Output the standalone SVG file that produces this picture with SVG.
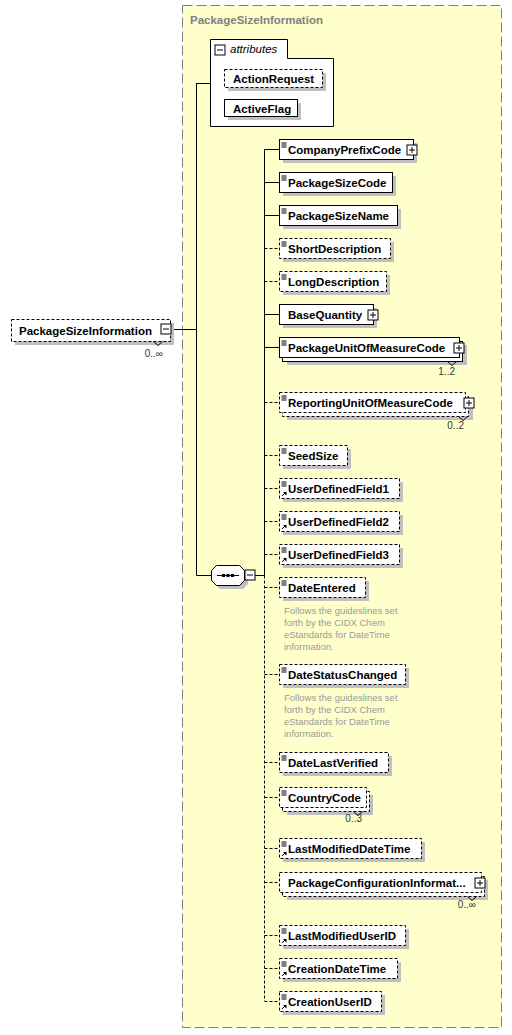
<svg xmlns="http://www.w3.org/2000/svg" width="512" height="1035" viewBox="0 0 512 1035">
<style>
.bg{fill:#ffffcc;stroke:#808080;stroke-width:1;stroke-dasharray:10,4}
.box{fill:#fff;stroke:#000;stroke-width:1}
.opt{stroke-dasharray:3,2}
.sh{fill:#c0c0c0}
.lbl{font-family:"Liberation Sans",Arial,sans-serif;font-weight:bold;font-size:11.5px;fill:#000}
.ttl{font-family:"Liberation Sans",Arial,sans-serif;font-weight:bold;font-size:11.5px;fill:#808080}
.it{font-family:"Liberation Sans",Arial,sans-serif;font-style:italic;font-size:11.5px;fill:#000}
.occ{font-family:"Liberation Sans",Arial,sans-serif;font-size:10px;fill:#333}
.doc{font-family:"Liberation Sans",Arial,sans-serif;font-size:9.5px;fill:#999}
.ln{stroke:#000;stroke-width:1;fill:none}
.dl{stroke:#000;stroke-width:1;fill:none;stroke-dasharray:3,2}
.ic{stroke:#000;stroke-width:1;fill:none}
</style>
<defs>
<g id="eq"><path d="M2,3.5h5M2,5.5h5M2,7.5h5" class="ic"/></g>
<g id="ref"><path d="M2.5,17.5l3,-3" class="ic"/><path d="M3.5,13.5h3.5v3.5z" fill="#000"/></g>
<g id="plus"><rect x="0.5" y="0.5" width="10" height="10" class="box"/><path d="M2.5,5.5h6M5.5,2.5v6" class="ic"/></g>
<g id="minus"><rect x="0.5" y="0.5" width="10" height="10" class="box"/><path d="M2.5,5.5h6" class="ic"/></g>
</defs>

<rect class="bg" x="182.5" y="5.5" width="319" height="1022"/>
<text class="ttl" x="190" y="24">PackageSizeInformation</text>

<g id="connectors">
<path class="ln" d="M171,329.5H196.5M196.5,83V575.5M196.5,83.5H210M196.5,575.5H211M255,575.5H264.5M264.5,149.5V575.5"/>
<path class="dl" d="M264.5,575.5V1001"/>
<path class="ln" d="M264.5,149.5H279M264.5,182.5H279M264.5,215.5H279M264.5,314.5H279M264.5,347.5H279"/>
<path class="dl" d="M264.5,248.5H279M264.5,281.5H279M264.5,402.5H279M264.5,455.5H279M264.5,488.5H279M264.5,521.5H279M264.5,554.5H279M264.5,587.5H279M264.5,674.5H279M264.5,762.5H279M264.5,797.5H279M264.5,848.5H279M264.5,882.5H279M264.5,935.5H279M264.5,968.5H279M264.5,1001.5H279"/>
</g>

<g id="PackageSizeInformation">
<rect class="sh" x="15" y="323" width="159" height="22"/>
<rect class="box opt" x="11.5" y="319.5" width="159" height="22"/>
<text class="lbl" x="19" y="335">PackageSizeInformation</text>
<use href="#minus" x="160.5" y="323.5"/>
<path class="ic" d="M153.5,341.5l4.5,4l4.5,-4"/>
<text class="occ" x="163" y="357" text-anchor="end">0..∞</text>
</g>

<g id="attributes">
<path class="box" d="M210.5,39.5H287.5V58.5H333.5V126.5H210.5Z"/>
<use href="#minus" x="214.5" y="44.5"/>
<text class="it" x="230" y="53">attributes</text>
</g>
<g id="ActionRequest">
<rect class="sh" x="228" y="73" width="98" height="18"/>
<rect class="box opt" x="224.5" y="69.5" width="98" height="18"/>
<text class="lbl" x="233" y="83">ActionRequest</text>
</g>
<g id="ActiveFlag">
<rect class="sh" x="228" y="103" width="73" height="17"/>
<rect class="box" x="224.5" y="99.5" width="73" height="17"/>
<text class="lbl" x="233" y="112.5">ActiveFlag</text>
</g>

<g id="sequence">
<path class="sh" d="M220,569H243L248,574V584L243,589H220L215,584V574Z"/>
<path class="box" d="M216.5,565.5H239.5L244.5,570.5V580.5L239.5,585.5H216.5L211.5,580.5V570.5Z"/>
<path class="ic" d="M217,575.5H239"/>
<rect x="222" y="574" width="3" height="3" fill="#000"/>
<rect x="226.5" y="574" width="3" height="3" fill="#000"/>
<rect x="231" y="574" width="3" height="3" fill="#000"/>
<use href="#minus" x="244.5" y="569.5"/>
</g>

<g id="CompanyPrefixCode">
<rect class="sh" x="283" y="143" width="134" height="20"/>
<rect class="box" x="279.5" y="139.5" width="134" height="20"/>
<use href="#eq" x="279.5" y="139.5"/>
<text class="lbl" x="288" y="154">CompanyPrefixCode</text>
<use href="#plus" x="406.5" y="144.5"/>
</g>
<g id="PackageSizeCode">
<rect class="sh" x="283" y="176" width="113" height="20"/>
<rect class="box" x="279.5" y="172.5" width="113" height="20"/>
<use href="#eq" x="279.5" y="172.5"/>
<text class="lbl" x="288" y="187">PackageSizeCode</text>
</g>
<g id="PackageSizeName">
<rect class="sh" x="283" y="209" width="118" height="20"/>
<rect class="box" x="279.5" y="205.5" width="118" height="20"/>
<use href="#eq" x="279.5" y="205.5"/>
<text class="lbl" x="288" y="220">PackageSizeName</text>
</g>
<g id="ShortDescription">
<rect class="sh" x="283" y="242" width="111" height="20"/>
<rect class="box opt" x="279.5" y="238.5" width="111" height="20"/>
<use href="#eq" x="279.5" y="238.5"/>
<text class="lbl" x="288" y="253">ShortDescription</text>
</g>
<g id="LongDescription">
<rect class="sh" x="283" y="275" width="107" height="20"/>
<rect class="box opt" x="279.5" y="271.5" width="107" height="20"/>
<use href="#eq" x="279.5" y="271.5"/>
<text class="lbl" x="288" y="286">LongDescription</text>
</g>
<g id="BaseQuantity">
<rect class="sh" x="283" y="308" width="94" height="20"/>
<rect class="box" x="279.5" y="304.5" width="94" height="20"/>
<text class="lbl" x="288" y="319">BaseQuantity</text>
<use href="#plus" x="367.5" y="309.5"/>
</g>
<g id="PackageUnitOfMeasureCode">
<rect class="sh" x="287" y="345" width="180" height="20"/>
<rect class="box" x="282.5" y="341.5" width="180" height="20"/>
<rect class="box" x="279.5" y="337.5" width="180" height="20"/>
<use href="#eq" x="279.5" y="337.5"/>
<text class="lbl" x="288" y="352">PackageUnitOfMeasureCode</text>
<use href="#plus" x="453.5" y="342.5"/>
<path class="ic" d="M447.5,361.5l4.5,4l4.5,-4"/>
<text class="occ" x="455" y="375" text-anchor="end">1..2</text>
</g>
<g id="ReportingUnitOfMeasureCode">
<rect class="sh" x="287" y="400" width="186" height="20"/>
<rect class="box opt" x="282.5" y="396.5" width="186" height="20"/>
<rect class="box opt" x="279.5" y="392.5" width="186" height="20"/>
<use href="#eq" x="279.5" y="392.5"/>
<text class="lbl" x="288" y="407">ReportingUnitOfMeasureCode</text>
<use href="#plus" x="463.5" y="397.5"/>
<path class="ic" d="M458.5,416.5l4.5,4l4.5,-4"/>
<text class="occ" x="464" y="429" text-anchor="end">0..2</text>
</g>
<g id="SeedSize">
<rect class="sh" x="283" y="449" width="68" height="20"/>
<rect class="box opt" x="279.5" y="445.5" width="68" height="20"/>
<use href="#eq" x="279.5" y="445.5"/>
<text class="lbl" x="288" y="460">SeedSize</text>
</g>
<g id="UserDefinedField1">
<rect class="sh" x="283" y="482" width="120" height="20"/>
<rect class="box opt" x="279.5" y="478.5" width="120" height="20"/>
<use href="#eq" x="279.5" y="478.5"/>
<use href="#ref" x="279.5" y="478.5"/>
<text class="lbl" x="288" y="493">UserDefinedField1</text>
</g>
<g id="UserDefinedField2">
<rect class="sh" x="283" y="515" width="120" height="20"/>
<rect class="box opt" x="279.5" y="511.5" width="120" height="20"/>
<use href="#eq" x="279.5" y="511.5"/>
<use href="#ref" x="279.5" y="511.5"/>
<text class="lbl" x="288" y="526">UserDefinedField2</text>
</g>
<g id="UserDefinedField3">
<rect class="sh" x="283" y="548" width="120" height="20"/>
<rect class="box opt" x="279.5" y="544.5" width="120" height="20"/>
<use href="#eq" x="279.5" y="544.5"/>
<use href="#ref" x="279.5" y="544.5"/>
<text class="lbl" x="288" y="559">UserDefinedField3</text>
</g>
<g id="DateEntered">
<rect class="sh" x="283" y="581" width="86" height="20"/>
<rect class="box opt" x="279.5" y="577.5" width="86" height="20"/>
<use href="#eq" x="279.5" y="577.5"/>
<text class="lbl" x="288" y="592">DateEntered</text>
<text class="doc" x="284" y="614">Follows the guideslines set</text>
<text class="doc" x="284" y="626">forth by the CIDX Chem</text>
<text class="doc" x="284" y="638">eStandards for DateTime</text>
<text class="doc" x="284" y="650">information.</text>
</g>
<g id="DateStatusChanged">
<rect class="sh" x="283" y="668" width="126" height="20"/>
<rect class="box opt" x="279.5" y="664.5" width="126" height="20"/>
<use href="#eq" x="279.5" y="664.5"/>
<text class="lbl" x="288" y="679">DateStatusChanged</text>
<text class="doc" x="284" y="701">Follows the guideslines set</text>
<text class="doc" x="284" y="713">forth by the CIDX Chem</text>
<text class="doc" x="284" y="725">eStandards for DateTime</text>
<text class="doc" x="284" y="737">information.</text>
</g>
<g id="DateLastVerified">
<rect class="sh" x="283" y="756" width="109" height="20"/>
<rect class="box opt" x="279.5" y="752.5" width="109" height="20"/>
<use href="#eq" x="279.5" y="752.5"/>
<text class="lbl" x="288" y="767">DateLastVerified</text>
</g>
<g id="CountryCode">
<rect class="sh" x="287" y="795" width="86" height="20"/>
<rect class="box opt" x="282.5" y="791.5" width="87" height="20"/>
<rect class="box opt" x="279.5" y="787.5" width="87" height="20"/>
<use href="#eq" x="279.5" y="787.5"/>
<text class="lbl" x="288" y="802">CountryCode</text>
<path class="ic" d="M353.5,811.5l4.5,4l4.5,-4"/>
<text class="occ" x="362" y="822" text-anchor="end">0..3</text>
</g>
<g id="LastModifiedDateTime">
<rect class="sh" x="283" y="842" width="142" height="20"/>
<rect class="box opt" x="279.5" y="838.5" width="142" height="20"/>
<use href="#eq" x="279.5" y="838.5"/>
<use href="#ref" x="279.5" y="838.5"/>
<text class="lbl" x="288" y="853">LastModifiedDateTime</text>
</g>
<g id="PackageConfigurationInformation">
<rect class="sh" x="287" y="880" width="201" height="20"/>
<rect class="box opt" x="282.5" y="876.5" width="202" height="20"/>
<rect class="box opt" x="279.5" y="872.5" width="202" height="20"/>
<text class="lbl" x="288" y="887">PackageConfigurationInformat...</text>
<use href="#plus" x="474.5" y="877.5"/>
<path class="ic" d="M467.5,896.5l4.5,4l4.5,-4"/>
<text class="occ" x="476" y="908" text-anchor="end">0..∞</text>
</g>
<g id="LastModifiedUserID">
<rect class="sh" x="283" y="929" width="126" height="20"/>
<rect class="box opt" x="279.5" y="925.5" width="126" height="20"/>
<use href="#eq" x="279.5" y="925.5"/>
<use href="#ref" x="279.5" y="925.5"/>
<text class="lbl" x="288" y="940">LastModifiedUserID</text>
</g>
<g id="CreationDateTime">
<rect class="sh" x="283" y="962" width="118" height="20"/>
<rect class="box opt" x="279.5" y="958.5" width="118" height="20"/>
<use href="#eq" x="279.5" y="958.5"/>
<use href="#ref" x="279.5" y="958.5"/>
<text class="lbl" x="288" y="973">CreationDateTime</text>
</g>
<g id="CreationUserID">
<rect class="sh" x="283" y="995" width="102" height="20"/>
<rect class="box opt" x="279.5" y="991.5" width="102" height="20"/>
<use href="#eq" x="279.5" y="991.5"/>
<use href="#ref" x="279.5" y="991.5"/>
<text class="lbl" x="288" y="1006">CreationUserID</text>
</g>
</svg>
